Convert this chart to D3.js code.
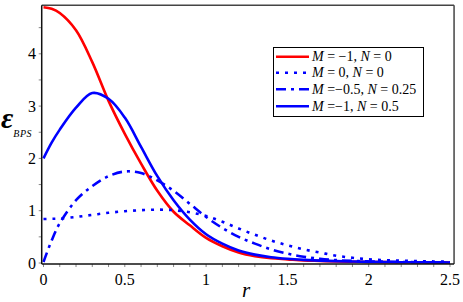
<!DOCTYPE html>
<html><head><meta charset="utf-8">
<script src="https://cdn.jsdelivr.net/npm/d3@7"></script>
<style>
body{margin:0;background:#fff}
svg{display:block}
svg text{font-family:"Liberation Serif",Tinos,"Times New Roman",serif !important}
</style>
</head><body>
<script>
const rGrid = [0,0.05,0.1,0.2,0.3,0.4,0.5,0.6,0.7,0.8,0.9,1.0,1.1,1.2,1.3,1.4,1.5,1.6,1.7,1.8,1.9,2.0,2.1,2.2,2.3,2.4,2.5];
const redVals   = [4.89,4.86,4.78,4.45,3.84,3.10,2.47,1.90,1.38,0.98,0.72,0.48,0.32,0.20,0.13,0.09,0.07,0.05,0.04,0.03,0.025,0.02,0.017,0.015,0.013,0.012,0.01];
const dotVals   = [0.84,0.845,0.85,0.88,0.92,0.96,0.99,1.01,1.02,1.01,0.97,0.90,0.79,0.66,0.54,0.43,0.34,0.26,0.20,0.14,0.10,0.07,0.055,0.045,0.035,0.03,0.025];
const dashDotVals = [0.02,0.43,0.76,1.20,1.47,1.66,1.75,1.72,1.58,1.38,1.13,0.88,0.67,0.50,0.37,0.26,0.18,0.12,0.08,0.055,0.04,0.03,0.025,0.02,0.015,0.012,0.01];
const blueVals  = [2.0,2.3,2.55,2.97,3.25,3.14,2.78,2.22,1.66,1.20,0.83,0.55,0.37,0.24,0.16,0.11,0.08,0.06,0.045,0.035,0.028,0.022,0.018,0.015,0.013,0.012,0.01];
const seriesLabels = [
  ["M"," = \u22121, ","N"," = 0"],
  ["M"," = 0, ","N"," = 0"],
  ["M"," =\u22120.5, ","N"," = 0.25"],
  ["M"," =\u22121, ","N"," = 0.5"]
];
const seriesColors = ["#ff0000","#0000ff","#0000ff","#0000ff"];
const seriesDash = [null,"3,6","10,5,3,5",null];
const xTicks = [0,0.5,1,1.5,2,2.5];
const xTickLabels = ["0","0.5","1","1.5","2","2.5"];
const yTicks = [0,1,2,3,4];
const yTickLabels = ["0","1","2","3","4"];

const FF = "Liberation Serif, Tinos, Times New Roman, serif";
const svg = d3.select("body").append("svg").attr("width",463).attr("height",302);
const x = d3.scaleLinear().domain([0,2.5]).range([43.5,450]);
const y = d3.scaleLinear().domain([0,1]).range([263,210.7]);
const L = x(-0.011), R = x(2.525), T = y(4.93), B = y(-0.02);

// minor ticks
const xMinor = d3.range(0,25.5,1).map(d=>d/10);
const yMinor = d3.range(0,10,1).map(d=>d/2);
svg.append("g").selectAll("line").data(xMinor).join("line")
  .attr("x1",d=>x(d)).attr("x2",d=>x(d)).attr("y1",B).attr("y2",B+3)
  .attr("stroke","#888").attr("stroke-width",1);
svg.append("g").selectAll("line").data(yMinor).join("line")
  .attr("x1",L-3).attr("x2",L).attr("y1",d=>y(d)).attr("y2",d=>y(d))
  .attr("stroke","#888").attr("stroke-width",1);

// frame
svg.append("line").attr("x1",L).attr("x2",R).attr("y1",T).attr("y2",T).attr("stroke","#444").attr("stroke-width",1.5);
svg.append("line").attr("x1",R).attr("x2",R).attr("y1",T).attr("y2",B).attr("stroke","#444").attr("stroke-width",1.5);

const line = d3.line().x((d,i)=>x(rGrid[i])).y(d=>y(d)).curve(d3.curveCatmullRom.alpha(0.5));
const allVals = [redVals,dotVals,dashDotVals,blueVals];
allVals.forEach((vals,i)=>{
  svg.append("path").attr("d",line(vals)).attr("fill","none")
   .attr("stroke",seriesColors[i]).attr("stroke-width",2.6)
   .attr("stroke-dasharray",seriesDash[i]);
});

svg.append("line").attr("x1",L).attr("x2",L).attr("y1",T).attr("y2",B).attr("stroke","#111").attr("stroke-width",1.5);
svg.append("line").attr("x1",L).attr("x2",R).attr("y1",B).attr("y2",B).attr("stroke","#111").attr("stroke-width",1.5);

// tick labels
xTicks.forEach((d,i)=>{
  svg.append("text").attr("x",x(d)).attr("y",285).attr("text-anchor","middle")
    .attr("font-family",FF).attr("font-size",16).text(xTickLabels[i]);
});
yTicks.forEach((d,i)=>{
  svg.append("text").attr("x",36).attr("y",y(d)+5.5).attr("text-anchor","end")
    .attr("font-family",FF).attr("font-size",16).text(yTickLabels[i]);
});

// axis labels
svg.append("text").attr("x",246).attr("y",297).attr("text-anchor","middle")
  .attr("font-family",FF).attr("font-style","italic").attr("font-size",21).text("r");
const yl = svg.append("text").attr("x",1).attr("y",128).attr("font-family",FF).attr("font-style","italic");
yl.append("tspan").attr("font-size",30).attr("font-weight","bold").text("\u03b5");
yl.append("tspan").attr("font-size",10).attr("dy",9).attr("letter-spacing",0.5).text("BPS");

// legend
svg.append("rect").attr("x",273.5).attr("y",47.5).attr("width",150).attr("height",69)
  .attr("fill","#fff").attr("stroke","#000").attr("stroke-width",1);
const rowY = [56.7,72.8,89.3,106.3];
seriesLabels.forEach((lab,i)=>{
  svg.append("line").attr("x1",276).attr("x2",309).attr("y1",rowY[i]).attr("y2",rowY[i])
    .attr("stroke",seriesColors[i]).attr("stroke-width",2.4).attr("stroke-dasharray",seriesDash[i]);
  const t = svg.append("text").attr("x",312).attr("y",rowY[i]+4.5)
    .attr("font-family",FF).attr("font-size",14);
  lab.forEach((s,j)=>{
    t.append("tspan").attr("font-style", j%2===0 ? "italic" : "normal").text(s);
  });
});
</script>
</body></html>
